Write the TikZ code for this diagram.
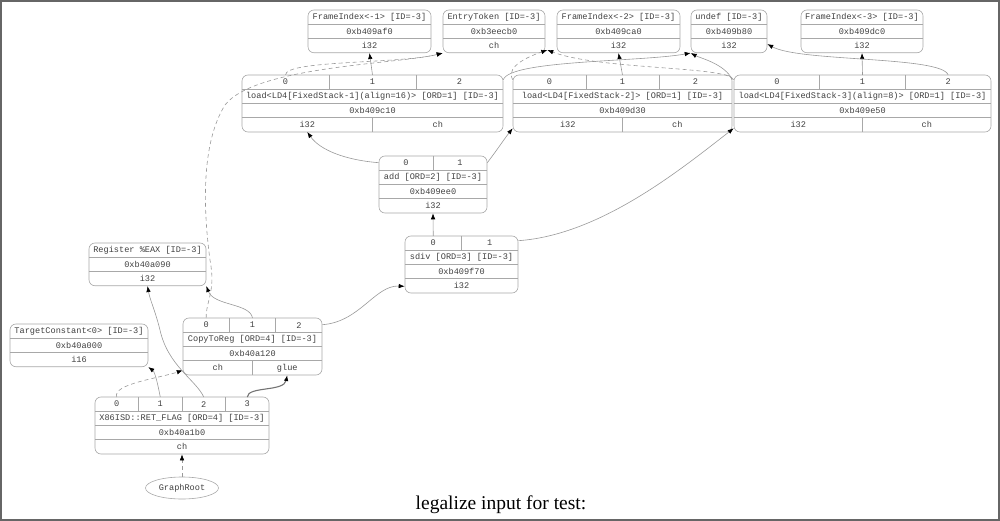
\documentclass[tikz,border=0pt]{standalone}
\usepackage{fontspec}
\setmainfont{Liberation Serif}
\newfontfamily\recfont{Liberation Mono}
\usetikzlibrary{shapes.geometric, arrows.meta}

\definecolor{boxline}{HTML}{A8A8A8}
\definecolor{edgeline}{HTML}{999999}
\definecolor{celltext}{HTML}{404040}

% value node: title, address and type rows
\newcommand{\valrec}[7]{%
  \node[rec, minimum width={#4-#2}, minimum height=42.75] (#1) at ({(#2+#4)/2},#3+21.375) {};
  \draw[rowline] (#2,#3+14.25) -- (#4,#3+14.25);
  \draw[rowline] (#2,#3+28.5) -- (#4,#3+28.5);
  \node[reccell] (#1-t) at ({(#2+#4)/2},#3+7.125) {#5};
  \node[reccell] (#1-a) at ({(#2+#4)/2},#3+21.375) {#6};
  \node[reccell] (#1-v0) at ({(#2+#4)/2},#3+35.625) {#7};
}

% op node: operand row, title, address, result row
\newcommand{\oprec}[9]{%
  \node[rec, minimum width={#4-#2}, minimum height=57] (#1) at ({(#2+#4)/2},#3+28.5) {};
  \foreach \row in {1,2,3} \draw[rowline] (#2,#3+\row*14.25) -- (#4,#3+\row*14.25);
  \foreach \pk in {1,...,#5} {
    \pgfmathtruncatemacro\pn{\pk-1}
    \node[reccell] (#1-l\pn) at ({#2+(\pk-0.5)*(#4-#2)/#5},#3+7.125) {\pn};
    \coordinate (#1-p\pn) at ({#2+(\pk-0.5)*(#4-#2)/#5},#3);
  }
  \foreach \pk in {2,...,#5} \draw[rowline] ({#2+(\pk-1)*(#4-#2)/#5},#3) -- ++(0,14.25);
  \node[reccell] (#1-t) at ({(#2+#4)/2},#3+21.375) {#6};
  \node[reccell] (#1-a) at ({(#2+#4)/2},#3+35.625) {#7};
  \foreach \ty [count=\pk] in {#9} {
    \pgfmathtruncatemacro\pn{\pk-1}
    \node[reccell] (#1-v\pn) at ({#2+(\pk-0.5)*(#4-#2)/#8},#3+49.875) {\ty};
    \coordinate (#1-r\pn) at ({#2+(\pk-0.5)*(#4-#2)/#8},#3+57);
  }
  \ifnum#8>1 \draw[rowline] ({(#2+#4)/2},#3+42.75) -- ++(0,14.25); \fi
}

\begin{document}
\begin{tikzpicture}[x=1pt, y=-1pt,
    rec/.style={draw=boxline, rounded corners=6pt, inner sep=0pt, line width=0.6pt},
    rowline/.style={draw=boxline, line width=0.6pt},
    reccell/.style={font={\recfont\fontsize{8.6}{10}\selectfont}, text=celltext, inner sep=0pt},
    depedge/.style={draw=edgeline, line width=0.6pt, -{Latex[length=6pt, width=4.5pt, color=black]}},
    chainedge/.style={depedge, dash pattern=on 4pt off 3pt},
    glueedge/.style={depedge, draw=black!55, line width=1.1pt}]
    \useasboundingbox (0,0) rectangle (1000,521);
    \draw[black!60, line width=2pt] (1,1) rectangle (999,520);

    % Operand nodes on the top row
    \valrec{fi1}{308}{10}{431}{FrameIndex<-1> [ID=-3]}{0xb409af0}{i32}
    \valrec{etok}{443}{10}{545}{EntryToken [ID=-3]}{0xb3eecb0}{ch}
    \valrec{fi2}{557}{10}{680}{FrameIndex<-2> [ID=-3]}{0xb409ca0}{i32}
    \valrec{undef}{691}{10}{767}{undef [ID=-3]}{0xb409b80}{i32}
    \valrec{fi3}{801}{10}{923}{FrameIndex<-3> [ID=-3]}{0xb409dc0}{i32}

    % Loads, arithmetic and return
    \oprec{load1}{242}{75}{503}{3}{load<LD4[FixedStack-1](align=16)> [ORD=1] [ID=-3]}{0xb409c10}{2}{i32,ch}
    \oprec{load2}{513}{75}{732}{3}{load<LD4[FixedStack-2]> [ORD=1] [ID=-3]}{0xb409d30}{2}{i32,ch}
    \oprec{load3}{734}{75}{991}{3}{load<LD4[FixedStack-3](align=8)> [ORD=1] [ID=-3]}{0xb409e50}{2}{i32,ch}
    \oprec{add}{379}{156}{487}{2}{add [ORD=2] [ID=-3]}{0xb409ee0}{1}{i32}
    \oprec{sdiv}{405}{236}{518}{2}{sdiv [ORD=3] [ID=-3]}{0xb409f70}{1}{i32}
    \valrec{reg}{89}{243}{206}{Register \%EAX [ID=-3]}{0xb40a090}{i32}
    \valrec{tconst}{10}{324}{148}{TargetConstant<0> [ID=-3]}{0xb40a000}{i16}
    \oprec{ctr}{183}{318}{322}{3}{CopyToReg [ORD=4] [ID=-3]}{0xb40a120}{2}{ch,glue}
    \oprec{ret}{95}{397}{269}{4}{X86ISD::RET\_FLAG [ORD=4] [ID=-3]}{0xb40a1b0}{1}{ch}
    \node[ellipse, draw=boxline, line width=0.6pt, minimum width=73, minimum height=22, inner sep=0pt,
          font={\recfont\fontsize{8.6}{10}\selectfont}, text=celltext] (root) at (182,488) {GraphRoot};

    % Edges into the top row
    \draw[depedge] (load1-p1) -- (fi1.south);
    \draw[depedge] (load2-p1) -- (fi2.south);
    \draw[depedge] (load3-p1) -- (fi3.south);
    \draw[chainedge] (load1-p0) .. controls (285,60) and (400,64) .. (etok.south west);
    \draw[chainedge] (ctr-p0) .. controls (206,300) and (216,292) .. (210,260)
        .. controls (202,200) and (203,140) .. (225,105)
        .. controls (255,66) and (400,64) .. (etok.south west);
    \draw[chainedge] ([yshift=-5pt]load2.north west) .. controls (505,66) and (530,56) .. ([xshift=2pt,yshift=3pt]etok.south east);
    \draw[chainedge] ([yshift=-5pt]load3.north west) .. controls (728,66) and (600,70) .. ([xshift=2pt,yshift=3pt]etok.south east);
    \draw[depedge] ([yshift=-5pt]load1.north east) .. controls (510,60) and (640,62) .. (undef.south west);
    \draw[depedge] ([yshift=-5pt]load2.north east) .. controls (725,64) and (700,58) .. (undef.south west);
    \draw[depedge] (load3-p2) .. controls (942,56) and (800,62) .. ([yshift=9pt]undef.south east);

    % Edges among the middle nodes
    \draw[depedge] ([yshift=-7pt]add.north west) .. controls (345,160) and (320,150) .. (load1-r0);
    \draw[depedge] ([yshift=-7pt]add.north east) .. controls (497,150) and (505,138) .. ([yshift=4pt]load2.south west);
    \draw[depedge] (sdiv-p0) -- (add.south);
    \draw[depedge] ([yshift=-5pt]sdiv.north east) .. controls (600,235) and (680,170) .. ([yshift=4pt]load3.south west);
    \draw[depedge] ([yshift=-7pt]ctr.north east) .. controls (360,322) and (375,285) .. ([yshift=7pt]sdiv.south west);
    \draw[depedge] (ctr-p1) .. controls (250,303) and (214,306) .. (reg.south east);

    % Edges of the return node
    \draw[chainedge] (ret-p0) .. controls (112,384) and (160,378) .. ([yshift=5pt]ctr.south west);
    \draw[depedge] (ret-p1) .. controls (158,385) and (155,372) .. (tconst.south east);
    \draw[depedge] (ret-p2) .. controls (196,380) and (168,366) .. (160,330) .. controls (155,310) and (150,300) .. (reg.south);
    \draw[glueedge] (ret-p3) .. controls (248,386) and (284,392) .. (ctr-r1);
    \draw[chainedge] (root.north) -- (ret.south);

    \node[anchor=base, font=\fontsize{19.5}{22}\selectfont] (caption) at (501,509) {legalize input for test:};
\end{tikzpicture}
\end{document}
